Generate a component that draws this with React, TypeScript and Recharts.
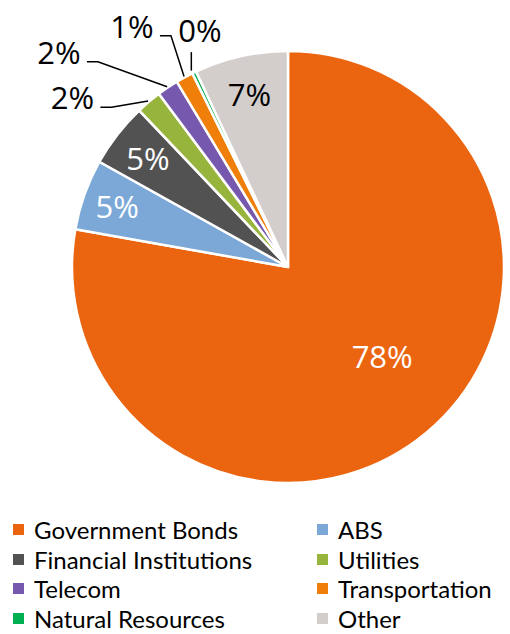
import React from 'react';
import { PieChart, Pie, Cell, Legend } from 'recharts';

const categories = [
  'Government Bonds',
  'ABS',
  'Financial Institutions',
  'Utilities',
  'Telecom',
  'Transportation',
  'Natural Resources',
  'Other',
];
const values = [77.8, 5.3, 4.8, 1.9, 1.6, 1.3, 0.3, 7.0];
const colors = ['#EB6511', '#7BA8D7', '#525252', '#97B43C', '#7659AE', '#F07F09', '#00B050', '#D3CECC'];

// label placement styles (clock angle in degrees, radius as fraction of outer radius)
const labelStyles: Array<{ kind: string; angle?: number; r: number; fill?: string }> = [
  { kind: 'inside', angle: 133.4, r: 0.6, fill: '#ffffff' },
  { kind: 'inside', r: 0.84, fill: '#ffffff' },
  { kind: 'inside', r: 0.82, fill: '#ffffff' },
  { kind: 'outside', angle: 308.2, r: 1.27 },
  { kind: 'outside', angle: 313.2, r: 1.455 },
  { kind: 'outside', angle: 327.1, r: 1.33 },
  { kind: 'vertical', angle: 339.6, r: 1.17 },
  { kind: 'inside', r: 0.82, fill: '#000000' },
];

const data = categories.map((name, i) => ({ name, value: values[i] }));

const FONT = '"Open Sans", sans-serif';
const LEGEND_FONT = 'Lato, sans-serif';

const polar = (cx: number, cy: number, r: number, clock: number) => {
  const rad = (clock * Math.PI) / 180;
  return { x: cx + r * Math.sin(rad), y: cy - r * Math.cos(rad) };
};

const renderLabel = (props: any) => {
  const { cx, cy, midAngle, outerRadius, percent, index } = props;
  const st = labelStyles[index];
  const midClock = 90 - midAngle;
  const clock = st.angle !== undefined ? st.angle : midClock;
  const p = polar(cx, cy, outerRadius * st.r, clock);
  const text = `${Math.round(percent * 100)}%`;
  const elems: React.ReactNode[] = [];
  if (st.kind === 'outside') {
    const s = polar(cx, cy, outerRadius + 1, midClock);
    const end = { x: p.x + 28, y: p.y + 10 };
    const elbow = { x: end.x + 11, y: end.y };
    elems.push(
      <polyline
        key="l"
        points={`${s.x},${s.y} ${elbow.x},${elbow.y} ${end.x},${end.y}`}
        fill="none"
        stroke="#000"
        strokeWidth={1.5}
      />
    );
  } else if (st.kind === 'vertical') {
    const s = polar(cx, cy, outerRadius + 2, midClock);
    elems.push(
      <line key="l" x1={s.x - 2} y1={s.y} x2={s.x - 2} y2={p.y + 22} stroke="#000" strokeWidth={1.5} />
    );
  }
  elems.push(
    <text
      key="t"
      x={p.x}
      y={p.y}
      textAnchor="middle"
      dominantBaseline="central"
      fill={st.fill || '#000'}
      style={{ fontFamily: FONT, fontSize: 31 }}
    >
      {text}
    </text>
  );
  return <g>{elems}</g>;
};

const renderLegend = () => {
  return (
    <div style={{ position: 'relative', width: 510, height: 118, fontFamily: LEGEND_FONT, fontSize: 24 }}>
      {categories.map((name, i) => {
        const col = i % 2;
        const row = Math.floor(i / 2);
        const left = col === 0 ? 13 : 317;
        const top = row * 29.5;
        return (
          <div key={name} style={{ position: 'absolute', left, top, height: 29, display: 'flex', alignItems: 'center', whiteSpace: 'nowrap' }}>
            <span style={{ display: 'inline-block', width: 11, height: 11, background: colors[i], marginRight: 10 }} />
            <span style={{ color: '#000', lineHeight: '29px' }}>{name}</span>
          </div>
        );
      })}
    </div>
  );
};

export default function App() {
  return (
    <div style={{ position: 'absolute', left: 0, top: 0, background: '#fff' }}>
      <PieChart width={510} height={634} margin={{ top: 0, right: 0, bottom: 0, left: 0 }}>
        <Pie
          data={data}
          dataKey="value"
          nameKey="name"
          cx={288}
          cy={267}
          outerRadius={216}
          startAngle={90}
          endAngle={-270}
          stroke="#ffffff"
          strokeWidth={2.5}
          label={renderLabel}
          labelLine={false}
          isAnimationActive={false}
        >
          {data.map((d, i) => (
            <Cell key={d.name} fill={colors[i]} />
          ))}
        </Pie>
        <Legend
          content={renderLegend}
          wrapperStyle={{ position: 'absolute', top: 515, left: 0, width: 510, height: 118 }}
        />
      </PieChart>
    </div>
  );
}
